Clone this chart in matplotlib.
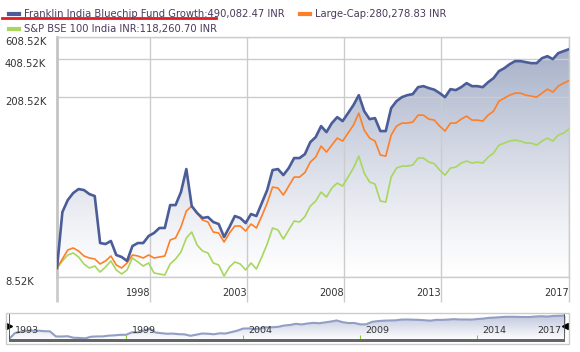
import numpy as np
import matplotlib.pyplot as plt
from matplotlib.lines import Line2D
from matplotlib.patches import Rectangle
from matplotlib.ticker import NullLocator
from matplotlib.transforms import Bbox, TransformedBbox

# growth of 10K INR, values in thousands, one point per quarter
fund = [10.0, 27.05, 33.49, 37.92, 40.71, 40.01, 37.25, 35.95, 15.59, 15.32,
        16.16, 12.60, 12.16, 11.33, 14.78, 15.59, 15.59, 17.66, 18.63, 20.37,
        20.37, 30.62, 30.62, 38.59, 58.09, 30.09, 26.58, 24.33, 24.75, 22.65,
        21.86, 17.35, 20.72, 25.20, 24.33, 22.25, 26.11, 25.20, 31.75, 40.01,
        57.08, 58.09, 52.19, 59.15, 70.65, 70.65, 75.84, 93.86, 102.6, 124.7,
        112.1, 131.6, 146.3, 136.3, 157.1, 181.1, 216.3, 162.8, 141.2, 143.8,
        114.2, 114.2, 171.8, 194.6, 208.8, 216.3, 220.3, 249.4, 253.9, 245.1,
        238.5, 224.3, 208.8, 240.7, 236.6, 249.4, 267.9, 253.9, 253.9, 249.4,
        272.6, 292.8, 331.6, 349.7, 375.5, 396.1, 396.1, 389.0, 382.2, 382.2,
        417.8, 432.7, 410.4, 456.6, 473.1, 490.08]
large_cap = [10.0, 11.74, 13.78, 14.28, 13.53, 12.38, 11.95, 11.74, 10.74, 11.33,
             12.38, 10.55, 10.00, 10.93, 12.60, 12.38, 11.95, 12.60, 11.95, 12.16,
             12.38, 16.45, 17.05, 20.72, 27.55, 30.09, 26.58, 23.48, 22.65, 18.96,
             18.63, 15.87, 18.63, 21.09, 21.09, 19.31, 21.86, 20.37, 25.20, 31.75,
             42.18, 41.45, 36.58, 42.94, 50.38, 50.38, 54.6, 65.78, 71.89, 87.42,
             78.58, 88.96, 100.8, 95.57, 110.2, 126.9, 157.1, 116.2, 100.8, 95.57,
             74.48, 73.18, 106.3, 124.7, 131.6, 131.6, 133.9, 151.6, 151.6, 141.2,
             138.8, 124.7, 114.2, 131.6, 131.6, 141.2, 148.9, 138.8, 138.8, 136.3,
             151.6, 162.8, 194.6, 205.2, 216.3, 224.3, 224.3, 216.3, 212.6, 208.8,
             224.3, 240.7, 228.2, 253.9, 267.9, 280.28]
bse100 = [10.0, 11.33, 12.60, 13.06, 12.16, 10.74, 10.00, 10.36, 9.31, 10.18,
          11.33, 9.65, 8.99, 9.65, 11.95, 11.13, 10.36, 10.93, 9.15, 8.99,
          8.83, 10.74, 11.74, 13.29, 17.05, 18.96, 15.04, 13.53, 13.06, 10.93,
          10.55, 8.67, 10.18, 11.13, 10.74, 9.65, 10.93, 9.82, 12.16, 15.32,
          20.37, 19.66, 16.74, 19.66, 23.06, 22.65, 24.97, 30.09, 32.90, 38.59,
          35.31, 41.45, 45.30, 42.94, 50.38, 59.15, 73.18, 54.11, 46.10, 44.50,
          32.90, 32.31, 50.38, 59.15, 61.26, 61.26, 62.35, 70.65, 70.65, 65.78,
          64.0, 57.08, 52.19, 59.15, 60.18, 64.63, 66.98, 64.63, 65.78, 64.63,
          71.89, 77.21, 88.96, 92.22, 95.57, 97.29, 95.57, 92.22, 92.22, 88.96,
          95.57, 100.8, 95.57, 106.3, 110.2, 118.26]

names = ["Franklin India Bluechip Fund Growth", "Large-Cap", "S&P BSE 100 India INR"]
last_values = ["490,082.47", "280,278.83", "118,260.70"]
colors = ["#4b5d98", "#ff7f27", "#a9d65e"]

y_ticks = [8.52, 208.52, 408.52, 608.52]
y_labels = ["8.52K", "208.52K", "408.52K", "608.52K"]
x_tick_pos = [17.3, 35.3, 53.3, 71.3, 95]
x_tick_labels = ["1998", "2003", "2008", "2013", "2017"]
nav_tick_pos = [0, 20, 40, 60, 80, 95]
nav_tick_labels = ["1993", "1999", "2004", "2009", "2014", "2017"]

plt.rcParams['font.family'] = 'DejaVu Sans'
W, H = 580, 352
fig = plt.figure(figsize=(W / 100, H / 100), dpi=100)
grid_c = '#cccccc'
x = np.arange(len(fund))


def gradient_fill(axis, xs, ys, bottom, top_rgb, gamma, n):
    # same area drawn n times, each copy clipped to a horizontal strip
    for k in range(n):
        f = ((k + 0.5) / n) ** gamma
        c = [1 - (1 - top_rgb[j]) * f for j in range(3)]
        band = axis.fill_between(xs, ys, bottom, color=c, lw=0, zorder=1)
        strip = Bbox([[0, k / n], [1, (k + 1.6) / n]])
        band.set_clip_box(TransformedBbox(strip, axis.transAxes))


# main chart
ax = fig.add_axes([57 / W, 1 - 277 / H, 512 / W, 240 / H])
ax.set_yscale('log')
gradient_fill(ax, x, fund, y_ticks[0], (0.63, 0.67, 0.77), 1.2, 120)
ax.plot(x, bse100, color=colors[2], lw=1.2, zorder=3)
ax.plot(x, large_cap, color=colors[1], lw=1.2, zorder=4)
ax.plot(x, fund, color=colors[0], lw=1.9, zorder=5)
ax.set_xlim(0, len(fund) - 1)
ax.set_ylim(y_ticks[0], y_ticks[-1])

ax.set_yticks(y_ticks, y_labels)
ax.yaxis.set_minor_locator(NullLocator())
ax.tick_params(axis='y', length=0, pad=52 * 0.72, labelsize=7.2, labelcolor='#333333')
plt.setp(ax.get_yticklabels(), ha='left', va='top')

ax.set_xticks(x_tick_pos, x_tick_labels)
ax.set_xticks([0], minor=True)
ax.tick_params(axis='x', which='both', length=18, color=grid_c, direction='out')
ax.tick_params(axis='x', which='major', width=1, pad=-10, labelsize=7, labelcolor='#333333')
ax.tick_params(axis='x', which='minor', width=2)
plt.setp(ax.get_xticklabels(), ha='right')
ax.grid(True, which='major', color=grid_c, lw=1, zorder=2)
for side in ['top', 'bottom', 'right']:
    ax.spines[side].set_color(grid_c)
    ax.spines[side].set_linewidth(1)
ax.spines['left'].set_color('#c4c4c4')
ax.spines['left'].set_linewidth(2)

# legend, two entries on the first row
handles = [Line2D([], [], color=c, lw=3) for c in colors]
labels = [f"{n}:{v} INR" for n, v in zip(names, last_values)]
order = [0, 2, 1]
leg = fig.legend([handles[i] for i in order], [labels[i] for i in order], ncol=2,
                 loc='upper left', bbox_to_anchor=(0, 1), frameon=False, fontsize=7.2,
                 handlelength=1.0, handletextpad=0.5, columnspacing=1.5,
                 labelspacing=0.5, borderaxespad=0.5, borderpad=0.4)
for t in leg.get_texts():
    t.set_color('#4a3b5c')
fig.add_artist(Line2D([2 / W, 216 / W], [1 - 18 / H] * 2, color='#e31b23', lw=2))

# navigator below
nav = fig.add_axes([9 / W, 1 - 339 / H, 556 / W, 26 / H])
nav.set_yscale('log')
gradient_fill(nav, x, fund, 10.2, (0.74, 0.77, 0.86), 1.0, 26)
nav.plot(x, fund, color='#929ec4', lw=1.5, zorder=3)
nav.set_xlim(0, len(fund) - 1)
nav.set_ylim(10.2, 740)
nav.yaxis.set_major_locator(NullLocator())
nav.yaxis.set_minor_locator(NullLocator())
nav.set_xticks(nav_tick_pos[:-1])
nav.tick_params(axis='x', direction='in', length=3, color='#8cc63f', labelbottom=False)
for s in nav.spines.values():
    s.set_visible(False)
for p, lab in zip(nav_tick_pos, nav_tick_labels):
    last = lab == nav_tick_labels[-1]
    nav.annotate(lab, xy=(p, 0), xycoords=('data', 'axes fraction'),
                 xytext=(-3 if last else 4, 3), textcoords='offset points',
                 ha='right' if last else 'left', va='bottom', fontsize=6.8,
                 color='#333333', zorder=6)
nav.axvline(0, color='#444444', lw=1.2, zorder=6)
nav.axvline(len(fund) - 1, color='#444444', lw=1.2, zorder=6)
nav.plot([0], [0.5], marker='>', color='black', ms=4, transform=nav.transAxes, clip_on=False)
nav.plot([1], [0.5], marker='<', color='black', ms=4, transform=nav.transAxes, clip_on=False)

fig.add_artist(Rectangle((6 / W, 1 - 344 / H), 563 / W, 31 / H, fill=False,
                         edgecolor=grid_c, lw=1))
fig.add_artist(Rectangle((9 / W, 1 - 342 / H), 556 / W, 3 / H, color='#666666', lw=0))

fig.savefig('out.png', dpi=100)
